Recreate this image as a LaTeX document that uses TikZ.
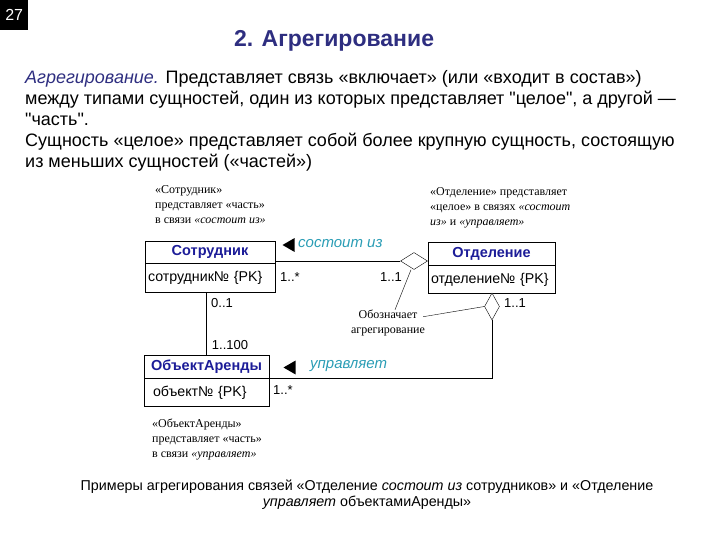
\documentclass[tikz,border=0pt]{standalone}
\usepackage{fontspec}
\setmainfont{Liberation Sans}[Ligatures=TeXOff]
\newfontfamily\notefont{Liberation Serif}
\usetikzlibrary{shapes.geometric}
\definecolor{titleblue}{HTML}{2E2E80}
\definecolor{entblue}{HTML}{1C1C98}
\definecolor{relteal}{HTML}{2A9DB5}

\begin{document}
\begin{tikzpicture}[x=1pt,y=-1pt,
    hdr/.style={draw,minimum width=#1,minimum height=22.5pt,inner sep=0pt,font=\fontsize{14.5}{15}\selectfont\bfseries,text=entblue},
    attr/.style={draw,text width=#1,inner xsep=3pt,inner ysep=0pt,minimum height=28.5pt,align=left,font=\fontsize{14.2}{16}\selectfont},
    mult/.style={font=\fontsize{13}{15}\selectfont,inner sep=0pt},
    note/.style={font=\notefont\fontsize{12}{15}\selectfont,align=left,inner sep=0pt},
    rel/.style={font=\fontsize{15}{16}\selectfont\itshape,text=relteal,inner sep=0pt},
    dirmark/.style={isosceles triangle,fill,inner sep=0pt,shape border rotate=180,isosceles triangle apex angle=60,minimum height=12pt},
    agg/.style={diamond,draw,fill=white,inner sep=0pt}]
    \useasboundingbox (0,0) rectangle (720,540);

    % page number and title
    \node[fill=black,text=white,anchor=north west,minimum width=28pt,minimum height=30pt,inner sep=0pt,font=\fontsize{16}{16}\selectfont] (pgnum) at (0,0) {27};
    \node[font=\fontsize{23}{25}\selectfont\bfseries,text=titleblue] (title) at (334,41) {2. Агрегирование};
    \node[anchor=north west,align=left,inner sep=0pt,font=\fontsize{18}{21}\selectfont] (intro) at (25,70) {\textcolor{titleblue}{\textit{Агрегирование.}} Представляет связь «включает» (или «входит в состав»)\\
        между типами сущностей, один из которых представляет "целое", а другой —\\
        "часть".\\
        Сущность «целое» представляет собой более крупную сущность, состоящую\\
        из меньших сущностей («частей»)};

    % entities
    \node[hdr=130pt] (sotrH) at (210,252) {Сотрудник};
    \node[attr=124pt,anchor=north] (sotrA) at (sotrH.south) {\mbox{сотрудник№ \{PK\}}};
    \node[hdr=127pt] (otdH) at (491.5,253.5) {Отделение};
    \node[attr=121pt,anchor=north] (otdA) at (otdH.south) {\mbox{отделение№ \{PK\}}};
    \node[hdr=125pt] (objH) at (206.5,366.5) {ОбъектАренды};
    \node[attr=107pt,anchor=north,inner xsep=9pt] (objA) at (objH.south) {объект№ \{PK\}};

    % aggregation diamonds
    \node[agg,minimum width=27pt,minimum height=17pt] (aggA) at (414,261) {};
    \node[agg,minimum width=15pt,minimum height=27pt] (aggB) at (492,306.5) {};

    \draw (aggA.west) -- (aggA.west -| sotrH.east);
    \draw (aggB.south) |- (objA.north east);
    \draw (sotrA.south -| objH.north) -- (objH.north);

    % relationship names
    \node[dirmark] (sostMark) at (290.5,245) {};
    \node[rel,anchor=west] (sostLbl) at (298,244) {состоит из};
    \node[dirmark] (uprMark) at (291.5,367.5) {};
    \node[rel,anchor=west] (uprLbl) at (310,366) {управляет};

    % multiplicities
    \node[mult] (mSotr) at (290,277) {1..*};
    \node[mult] (mOtdA) at (391,277) {1..1};
    \node[mult] (mSotrB) at (222,303) {0..1};
    \node[mult] (mObjA) at (230,345) {1..100};
    \node[mult] (mOtdB) at (515,303) {1..1};
    \node[mult] (mObjB) at (283,390) {1..*};

    % notes
    \node[note,align=center] (aggNote) at (388,323) {Обозначает\\агрегирование};
    \draw ([xshift=7pt]aggNote.north) -- ([xshift=-3pt]aggA.south);
    \draw ([xshift=-2pt,yshift=-7pt]aggNote.north east) -- (aggB.west);
    \node[note,anchor=north west] (sotrNote) at (155,185) {«Сотрудник»\\представляет «часть»\\в связи \textit{«состоит из»}};
    \node[note,anchor=north west] (otdNote) at (430,187) {«Отделение» представляет\\«целое» в связях \textit{«состоит}\\\textit{из»} и \textit{«управляет»}};
    \node[note,anchor=north west] (objNote) at (152,419) {«ОбъектАренды»\\представляет «часть»\\в связи \textit{«управляет»}};

    % caption
    \node[align=center,inner sep=0pt,font=\fontsize{14.3}{16}\selectfont] (caption) at (367,495) {Примеры агрегирования связей «Отделение \textit{состоит из} сотрудников» и «Отделение\\\textit{управляет} объектамиАренды»};
\end{tikzpicture}
\end{document}
